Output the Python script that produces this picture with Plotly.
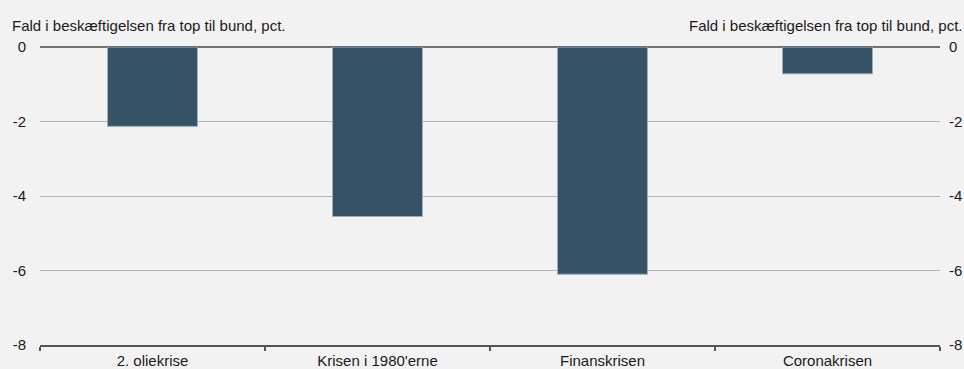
import plotly.graph_objects as go

# Fald i beskæftigelsen under fire kriser
kriser = ["2. oliekrise", "Krisen i 1980'erne", "Finanskrisen", "Coronakrisen"]
fald = [-2.13, -4.55, -6.1, -0.72]
y_ticks = [0, -2, -4, -6, -8]
y_titel = "Fald i beskæftigelsen fra top til bund, pct."

font = dict(family="Liberation Sans, Arial, sans-serif", size=15, color="#1a1a1a")

fig = go.Figure()
fig.add_trace(go.Bar(
    x=kriser, y=fald, width=0.4,
    marker=dict(color="#355266", line=dict(color="#9aaebb", width=1)),
    showlegend=False, hoverinfo="x+y",
))
# usynligt spor, så højre akse får sine egne etiketter
fig.add_trace(go.Scatter(x=kriser, y=fald, yaxis="y2", mode="markers",
                         marker=dict(opacity=0), showlegend=False, hoverinfo="skip"))

fig.update_layout(
    width=964, height=369,
    margin=dict(l=40, r=24, t=47, b=24),
    paper_bgcolor="#f2f2f2", plot_bgcolor="#f2f2f2",
    font=font, bargap=0.6,
    xaxis=dict(
        type="category", range=[-0.5, 3.5], automargin=False,
        showgrid=False, showline=True, linecolor="#555555", linewidth=1.5,
        ticks="outside", tickson="boundaries", ticklen=4, tickcolor="#555555", tickwidth=1.5,
        ticklabelstandoff=1, tickfont=font,
    ),
    yaxis=dict(
        range=[-8, 0], tickvals=y_ticks, ticktext=[str(v) for v in y_ticks],
        automargin=False,
        showgrid=True, gridcolor="#b3b3b3", gridwidth=1,
        zeroline=True, zerolinecolor="#707070", zerolinewidth=1.5,
        ticks="", ticklabelstandoff=13, tickfont=font,
    ),
    yaxis2=dict(
        range=[-8, 0], tickvals=y_ticks, ticktext=[str(v) for v in y_ticks],
        automargin=False,
        overlaying="y", side="right", showgrid=False, zeroline=False,
        ticks="", ticklabelstandoff=8, tickfont=font,
    ),
    annotations=[
        dict(text=y_titel, xref="paper", yref="paper", x=-40 / 900, y=1,
             xanchor="left", yanchor="bottom", yshift=11, showarrow=False, font=font,
             xshift=10),
        dict(text=y_titel, xref="paper", yref="paper", x=1 + 24 / 900, y=1,
             xanchor="right", yanchor="bottom", yshift=11, showarrow=False, font=font,
             xshift=0),
    ],
)

fig.write_html("out.html")
